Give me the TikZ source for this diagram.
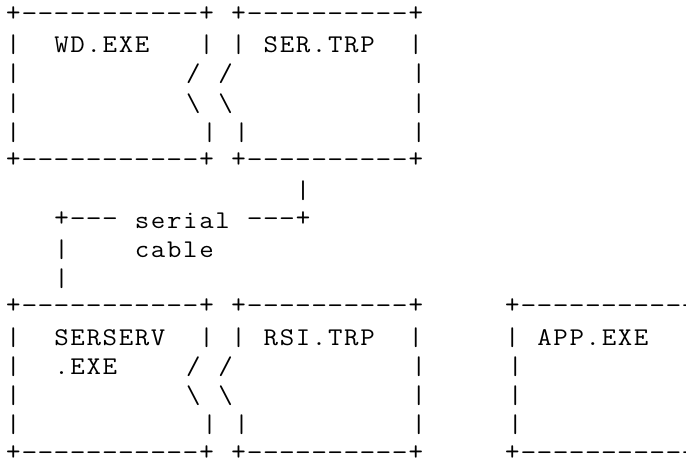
\documentclass[tikz,border=0pt]{standalone}
\usepackage{fontspec}
\usepackage{graphicx}
\newcommand{\bs}{\textbackslash}
\newlength\cw \setlength\cw{16.1pt}
\newcommand{\rs}{2.0pt}
\makeatletter
\def\gridtext#1{\gridi#1\relax}
\def\gridi#1{\ifx#1\relax\else\gridchar{#1}\expandafter\gridi\fi}
\def\gridchar#1{%
  \ifx#1_\hbox to\cw{\hss}%
  \else\ifx#1+\hbox to\cw{\hss\raisebox{\rs}{\scalebox{1.1}{#1}}\hss}%
  \else\ifx#1-\hbox to\cw{\hss\raisebox{\rs}{\scalebox{1.2}[1]{#1}}\hss}%
  \else\hbox to\cw{\hss\scalebox{1.1}[1]{#1}\hss}%
  \fi\fi\fi}
\makeatother
\tikzset{
  asc/.style={anchor=base west, inner sep=0pt, outer sep=0pt, text=black,
    font=\ttfamily\fontsize{25.5}{29.25}\selectfont}
}
\newcommand{\cx}[1]{5.25+#1*16.1}
\newcommand{\ry}[1]{52.7+(#1-2)*29.25}
\begin{document}
\begin{tikzpicture}[x=1pt,y=-1pt]
\useasboundingbox (0,0) rectangle (686,462);
\clip (0,0) rectangle (686,462);
\def\sh{3}
% top pair of boxes
\node[asc] (r1) at ({\cx{0}},{\ry{1}}) {\gridtext{+-----------+_+----------+}};
\node[asc] (r2) at ({\cx{0}},{\ry{2}}) {\gridtext{|__WD.EXE___|_|_SER.TRP__|}};
\node[asc] (r3a) at ({\cx{0}},{\ry{3}}) {\gridtext{|}};
\node[asc] (r3b) at ({\cx{11}+\sh},{\ry{3}}) {\gridtext{/_/___________|}};
\node[asc] (r4a) at ({\cx{0}},{\ry{4}}) {\gridtext{|}};
\node[asc] (r4b) at ({\cx{11}+\sh},{\ry{4}}) {\gridtext{\bs_\bs___________|}};
\node[asc] (r5a) at ({\cx{0}},{\ry{5}}) {\gridtext{|}};
\node[asc] (r5b) at ({\cx{12}+\sh},{\ry{5}}) {\gridtext{|_|__________|}};
\node[asc] (r6) at ({\cx{0}},{\ry{6}}) {\gridtext{+-----------+_+----------+}};
% serial cable
\node[asc] (r7) at ({\cx{18}},{\ry{7}}) {\gridtext{|}};
\node[asc] (r8) at ({\cx{3}},{\ry{8}}) {\gridtext{+---_serial_---+}};
\node[asc] (r9) at ({\cx{3}},{\ry{9}}) {\gridtext{|____cable}};
\node[asc] (r10) at ({\cx{3}},{\ry{10}}) {\gridtext{|}};
% bottom boxes
\node[asc] (r11) at ({\cx{0}},{\ry{11}}) {\gridtext{+-----------+_+----------+_____+-----------+}};
\node[asc] (r12) at ({\cx{0}},{\ry{12}}) {\gridtext{|__SERSERV__|_|_RSI.TRP__|_____|_APP.EXE}};
\node[asc] (r13a) at ({\cx{0}},{\ry{13}}) {\gridtext{|__.EXE}};
\node[asc] (r13b) at ({\cx{11}+\sh},{\ry{13}}) {\gridtext{/_/___________|_____|}};
\node[asc] (r14a) at ({\cx{0}},{\ry{14}}) {\gridtext{|}};
\node[asc] (r14b) at ({\cx{11}+\sh},{\ry{14}}) {\gridtext{\bs_\bs___________|_____|}};
\node[asc] (r15a) at ({\cx{0}},{\ry{15}}) {\gridtext{|}};
\node[asc] (r15b) at ({\cx{12}+\sh},{\ry{15}}) {\gridtext{|_|__________|_____|}};
\node[asc] (r16) at ({\cx{0}},{\ry{16}}) {\gridtext{+-----------+_+----------+_____+-----------+}};
\end{tikzpicture}
\end{document}
